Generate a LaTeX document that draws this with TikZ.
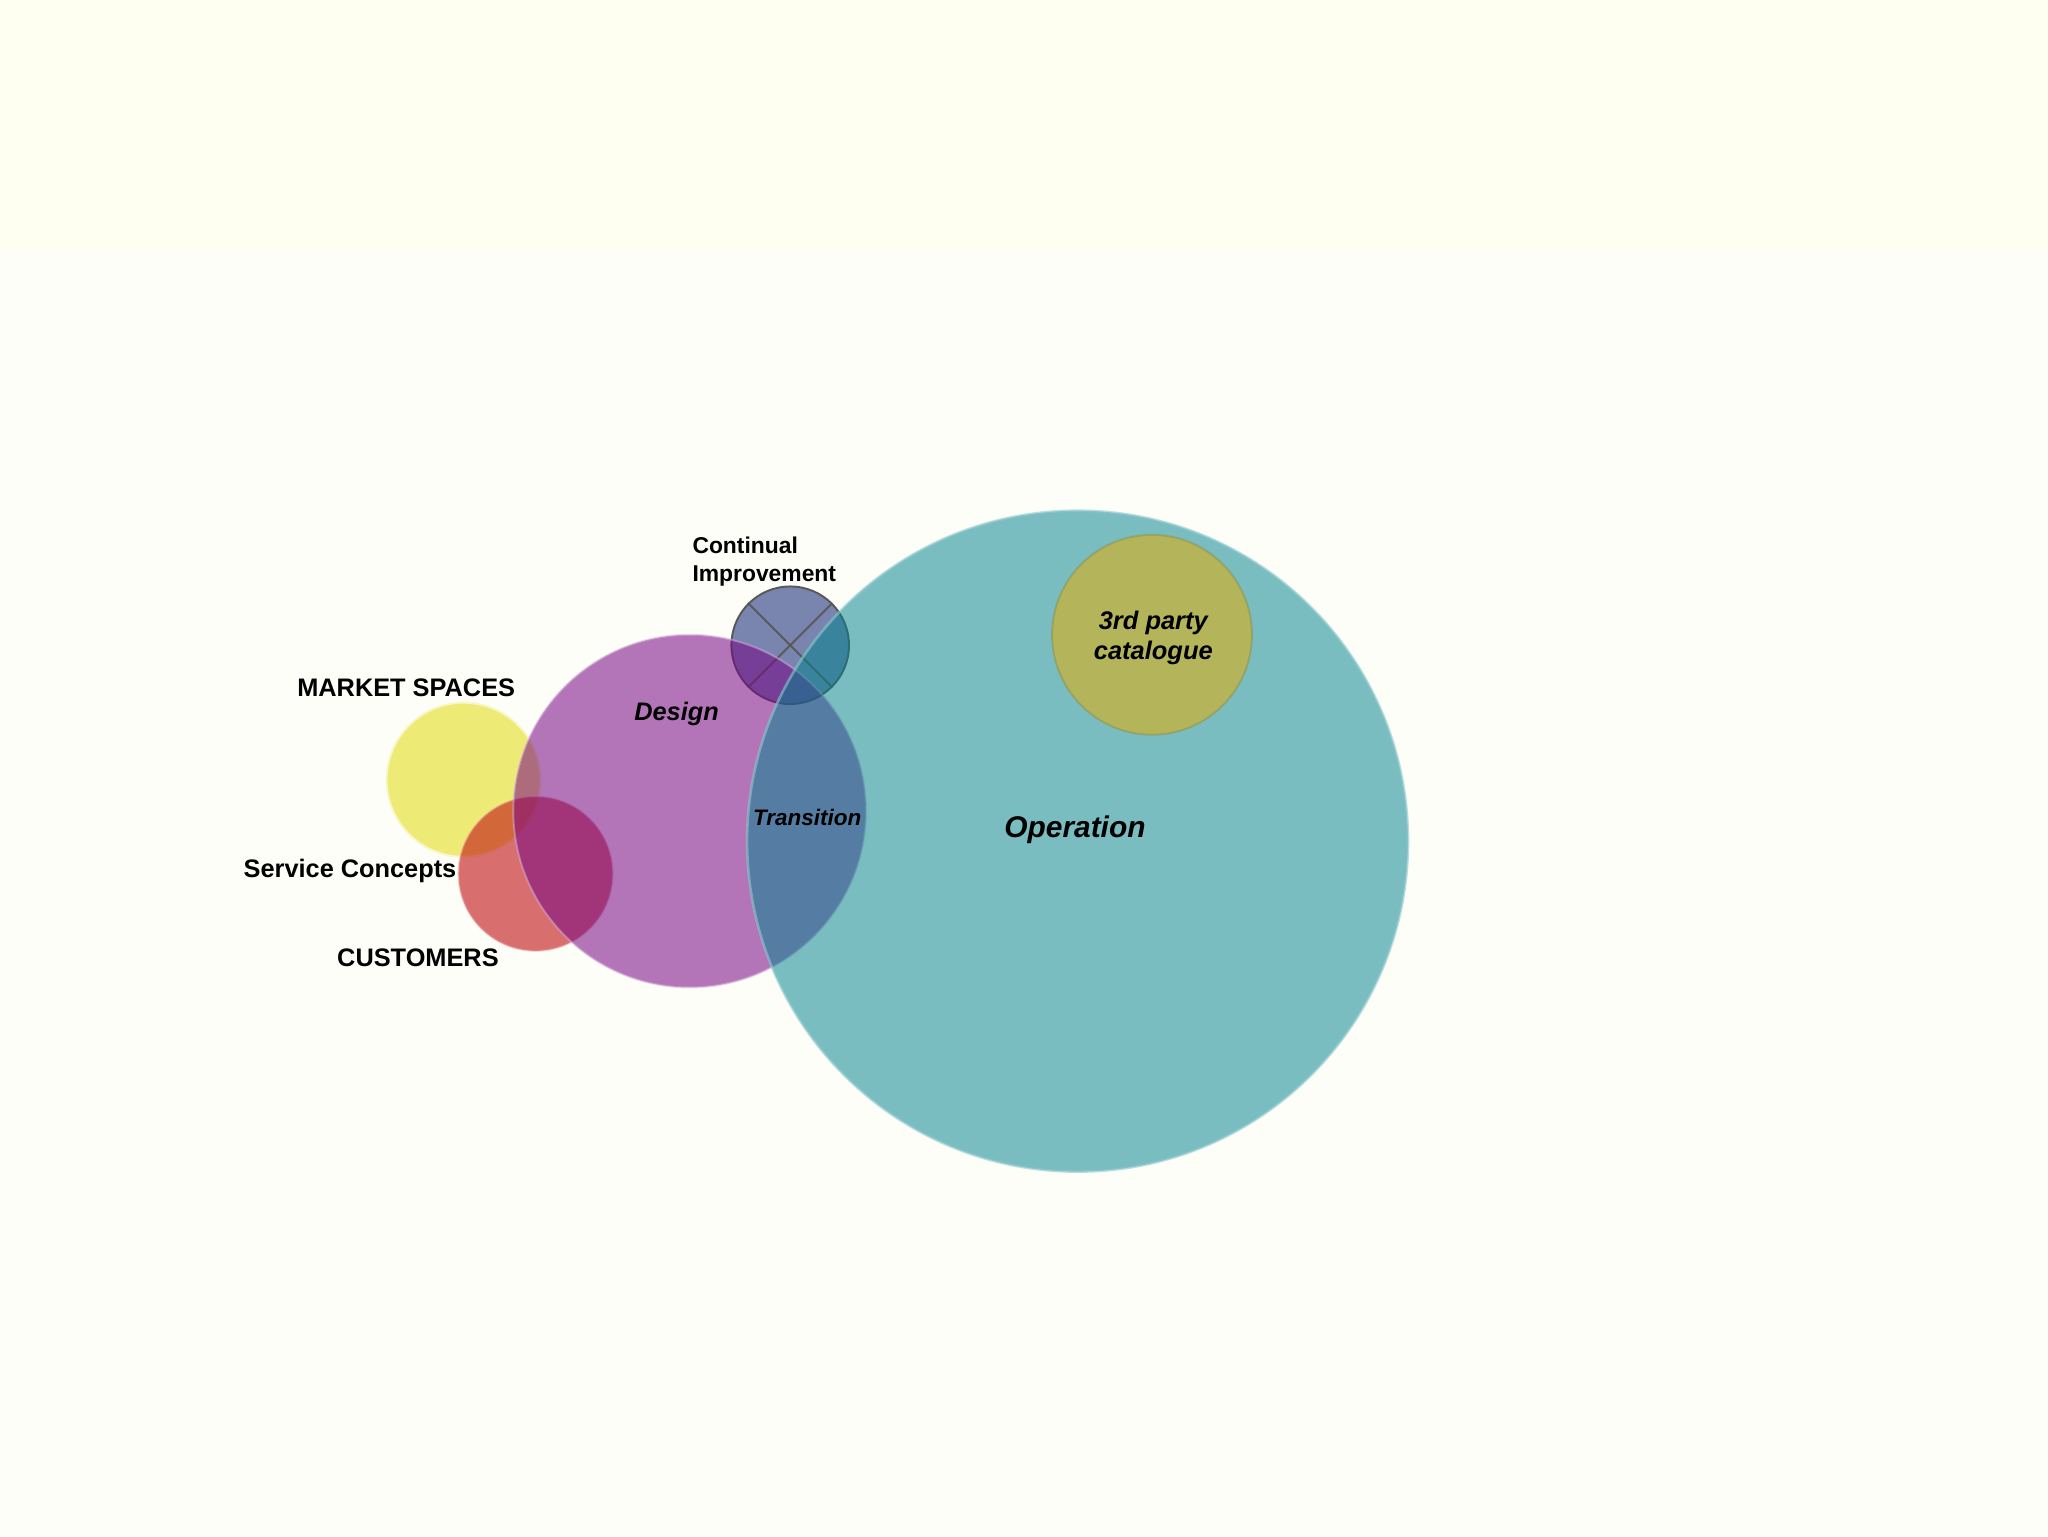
\documentclass[tikz,border=0pt]{standalone}
\usepackage{fontspec}
\setmainfont{Liberation Sans}

\definecolor{bgtop}{HTML}{FEFEF1}
\definecolor{bgmain}{HTML}{FDFEF7}
\definecolor{opcol}{RGB}{0,131,142}
\definecolor{descol}{RGB}{117,2,131}
\definecolor{custcol}{RGB}{192,17,20}
\definecolor{cicol}{RGB}{13,35,115}
\definecolor{mktcol}{HTML}{EDEB75}
\definecolor{catcol}{HTML}{B4B55B}

\tikzset{
    bubble/.style={circle, inner sep=0pt, minimum size=#1},
    tag/.style={font=\fontsize{19.4}{23}\selectfont\bfseries, inner sep=0pt, anchor=base},
    smalltag/.style={font=\fontsize{17.5}{21}\selectfont\bfseries, inner sep=0pt, anchor=base},
    itag/.style={font=\fontsize{#1}{23}\selectfont\bfseries\itshape, inner sep=0pt, anchor=base}
}

\begin{document}
\begin{tikzpicture}[x=1pt,y=-1pt]
    \useasboundingbox (0,0) rectangle (1568,1176);
    \fill[bgmain] (0,0) rectangle (1568,1176);
    \fill[bgtop] (0,0) rectangle (1568,190);

    % bubbles, back to front
    \node[bubble=118pt, fill=mktcol, draw=mktcol!40!white, line width=1.5pt] (mkt) at (355,597) {};
    \node[bubble=118pt, fill=custcol, fill opacity=0.6, draw=custcol!40!white, draw opacity=0.4, line width=1.5pt] (cust) at (410,669) {};
    \node[bubble=90pt, fill=cicol, fill opacity=0.55, draw=black!65, line width=1.5pt] (ci) at (605,494) {};
    \draw[black!65, line width=1.5pt] (ci.135) -- (ci.-45) (ci.45) -- (ci.-135);
    \node[bubble=270pt, fill=descol, fill opacity=0.54, draw=descol!30!white, draw opacity=0.5, line width=1.5pt] (design) at (528,621) {};
    \node[bubble=506pt, fill=opcol, fill opacity=0.52, draw=opcol!45!white, draw opacity=0.6, line width=2pt] (op) at (825,644) {};
    \node[bubble=153pt, fill=catcol, draw=catcol!80!black, draw opacity=0.5, line width=1.5pt] (cat) at (882,486) {};

    % labels
    \node[tag] (mktlbl) at (311,533) {MARKET SPACES};
    \node[tag] (svclbl) at (268,672) {Service Concepts};
    \node[tag] (custlbl) at (320,740) {CUSTOMERS};
    \node[smalltag, anchor=base west, align=left] (cilbl) at (530,445) {Continual\\Improvement};
    \node[itag=19.4] (deslbl) at (518,552) {Design};
    \node[itag=17.2] (translbl) at (618,632) {Transition};
    \node[itag=22.9] (oplbl) at (823,641) {Operation};
    \node[itag=19.5, align=center] (catlbl) at (883,505) {3rd party\\catalogue};
\end{tikzpicture}
\end{document}
